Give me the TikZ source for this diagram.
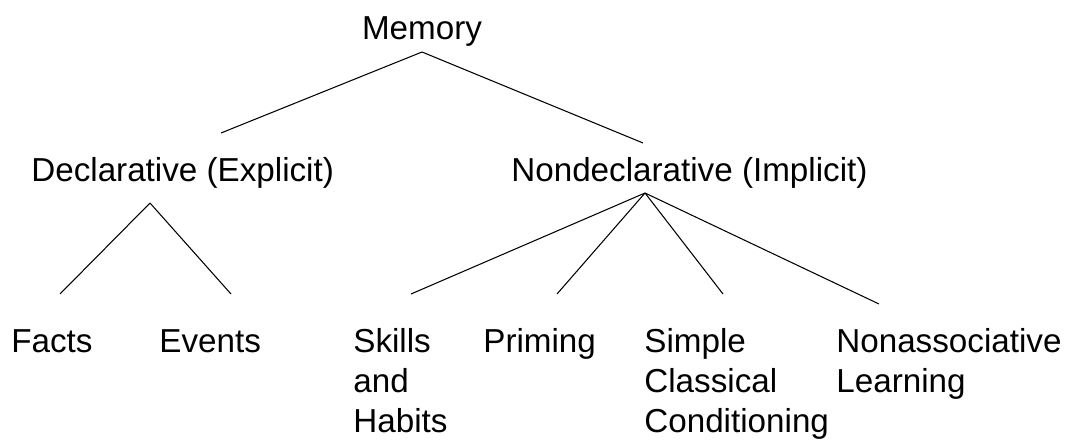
\documentclass[tikz,border=0pt]{standalone}
\usepackage{fontspec}
\setmainfont{Liberation Sans}
\usepackage{tikz}

\begin{document}
\begin{tikzpicture}[x=0.02cm,y=-0.02cm,
    lbl/.style={inner sep=0pt,anchor=base west,align=left,
        font=\fontsize{18.9pt}{22.76pt}\selectfont},
    link/.style={line width=0.6pt}]
\useasboundingbox (0,0) rectangle (1067,439);

% Top
\node[lbl,anchor=base] (mem) at (422,40) {Memory};

% Second row
\node[lbl] (decl) at (31,181) {Declarative (Explicit)};
\node[lbl] (nondecl) at (511,181) {Nondeclarative (Implicit)};

% Bottom row (multi-line nodes sit on their last line)
\node[lbl] (facts) at (11,352) {Facts};
\node[lbl] (events) at (159,352) {Events};
\node[lbl] (skills) at (353,432) {Skills\\and\\Habits};
\node[lbl] (priming) at (483,352) {Priming};
\node[lbl] (simple) at (644,432) {Simple\\Classical\\Conditioning};
\node[lbl] (nonassoc) at (836,392) {Nonassociative\\Learning};

% Lines
\draw[link] ([shift={(0,12)}]mem.base) -- ([shift={(190,-48)}]decl.base west);
\draw[link] ([shift={(0,12)}]mem.base) -- ([shift={(132,-38)}]nondecl.base west);
\draw[link] ([shift={(119,22)}]decl.base west) -- ([shift={(49,-58)}]facts.base west);
\draw[link] ([shift={(119,22)}]decl.base west) -- ([shift={(72,-58)}]events.base west);
\draw[link] ([shift={(134,12)}]nondecl.base west) -- ([shift={(58,-138)}]skills.base west);
\draw[link] ([shift={(134,12)}]nondecl.base west) -- ([shift={(74,-58)}]priming.base west);
\draw[link] ([shift={(134,12)}]nondecl.base west) -- ([shift={(79,-138)}]simple.base west);
\draw[link] ([shift={(134,12)}]nondecl.base west) -- ([shift={(43,-88)}]nonassoc.base west);
\end{tikzpicture}
\end{document}
